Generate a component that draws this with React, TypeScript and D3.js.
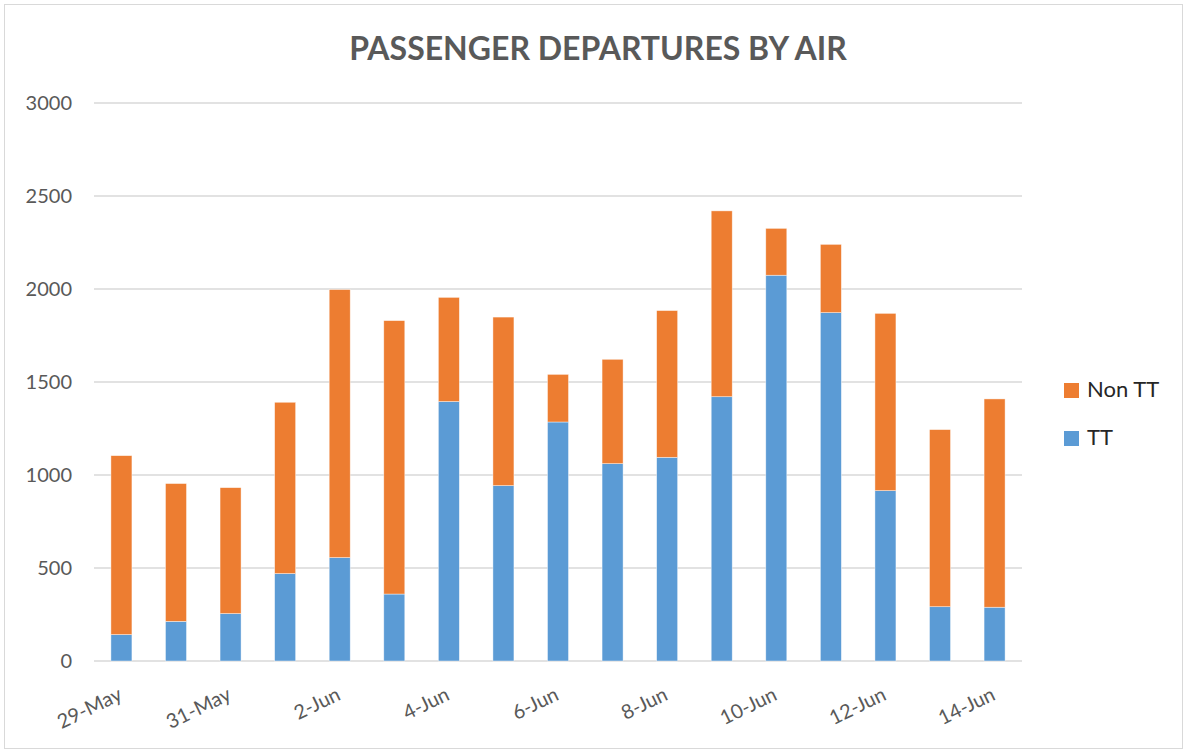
import React, { useEffect } from "react";
import { scaleBand, scaleLinear, stack } from "d3";

// dates on the category axis
const days = [
  "29-May", "30-May", "31-May", "1-Jun", "2-Jun", "3-Jun", "4-Jun", "5-Jun", "6-Jun",
  "7-Jun", "8-Jun", "9-Jun", "10-Jun", "11-Jun", "12-Jun", "13-Jun", "14-Jun",
];
// TT passengers (blue, bottom of stack)
const ttValues = [142, 213, 255, 470, 556, 360, 1395, 943, 1285, 1061, 1095, 1421, 2074, 1873, 916, 292, 289];
// Non TT passengers (orange, on top)
const nonTtValues = [962, 741, 677, 921, 1441, 1470, 560, 906, 256, 561, 789, 999, 252, 367, 953, 952, 1120];
const yTicks = [0, 500, 1000, 1500, 2000, 2500, 3000];
const seriesKeys = ["TT", "Non TT"];
const colors: Record<string, string> = { TT: "#5B9BD5", "Non TT": "#ED7D31" };

const W = 1187;
const H = 753;
const FONT = "Lato, 'Open Sans', sans-serif";

export default function App() {
  useEffect(() => {
    document.body.style.margin = "0";
  }, []);

  const rows = days.map((d, i) => ({ day: d, TT: ttValues[i], "Non TT": nonTtValues[i] }));
  const layers = stack<any>().keys(seriesKeys)(rows);

  const x = scaleBand<string>()
    .domain(days)
    .range([94, 1022])
    .paddingInner(0.615)
    .paddingOuter(0.31);
  const y = scaleLinear().domain([0, 3000]).range([661, 103]);

  return (
    <svg width={W} height={H} style={{ display: "block", background: "#fff" }} fontFamily={FONT}>
      <rect x={4.5} y={4.5} width={W - 9} height={H - 9} fill="#fff" stroke="#d9d9d9" strokeWidth={1} />

      <text x={598} y={60} textAnchor="middle" fontSize={32} fontWeight="bold" fill="#595959">
        PASSENGER DEPARTURES BY AIR
      </text>

      {/* gridlines + y labels */}
      {yTicks.map((t) => (
        <g key={t}>
          <line x1={94} x2={1022} y1={y(t)} y2={y(t)} stroke="#d9d9d9" strokeWidth={1.5} />
          <text x={72} y={y(t)} dy="0.35em" textAnchor="end" fontSize={20} fill="#595959">
            {t}
          </text>
        </g>
      ))}

      {/* stacked bars */}
      {layers.map((layer) => (
        <g key={layer.key} fill={colors[layer.key]}>
          {layer.map((seg: any, i: number) => (
            <rect
              key={i}
              x={x(seg.data.day)}
              y={y(seg[1])}
              width={x.bandwidth()}
              height={y(seg[0]) - y(seg[1])}
              stroke="#fff"
              strokeOpacity={0.6}
              strokeWidth={0.7}
            />
          ))}
        </g>
      ))}

      {/* x labels, every other day */}
      {days.map((d, i) =>
        i % 2 === 0 ? (
          <text
            key={d}
            transform={`translate(${(x(d) as number) + x.bandwidth() / 2 + 2},699) rotate(-26)`}
            textAnchor="end"
            fontSize={20}
            fill="#595959"
          >
            {d}
          </text>
        ) : null
      )}

      {/* legend */}
      {["Non TT", "TT"].map((k, i) => (
        <g key={k} transform={`translate(1064,${383 + i * 48})`}>
          <rect width={15} height={15} fill={colors[k]} />
          <text x={23} y={14} fontSize={22} fill="#262626">
            {k}
          </text>
        </g>
      ))}
    </svg>
  );
}
